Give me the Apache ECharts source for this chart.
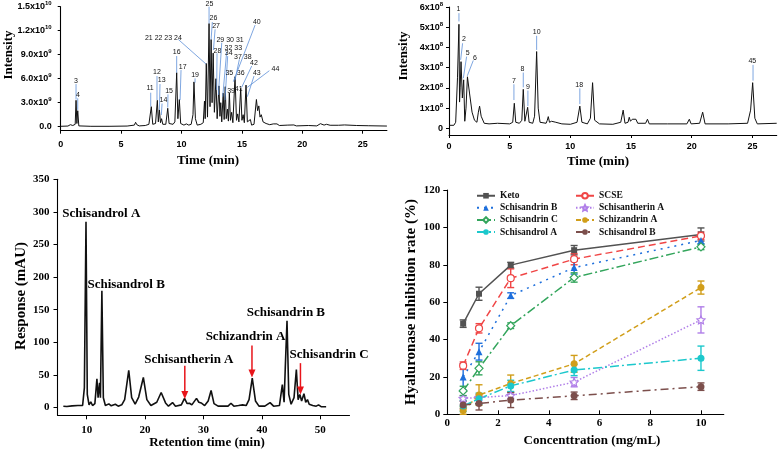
<!DOCTYPE html>
<html lang="en">
<head>
<meta charset="UTF-8">
<title>Chromatograms and hyaluronase inhibition</title>
<style>
  html, body { margin: 0; padding: 0; background: #fff; }
  #chart { width: 779px; height: 450px; }
</style>
</head>
<body>
<div id="chart"></div>
<script src="https://cdn.jsdelivr.net/npm/echarts@6/dist/echarts.min.js"></script>
<script>
// ---------- top left chromatogram: [time (min), intensity (x10^9)] ----------
let tlTrace = [
  [0, 0.05], [0.6, 0.08], [0.8, 0.25], [0.9, 0.05], [1.0, 0.15], [1.1, 0.05], [1.2, 0.3], [1.27, 3.3], [1.34, 0.4], [1.41, 2.0], [1.5, 0.1],
  [2.5, 0.05], [4, 0.05], [5.5, 0.08], [6.1, 0.2], [6.2, 0.55], [6.3, 0.25], [6.4, 0.4], [6.5, 0.1], [7.0, 0.15], [7.3, 0.3], [7.4, 0.25],
  [7.5, 2.5], [7.62, 0.3], [7.85, 0.4], [8.0, 3.3], [8.08, 0.6], [8.17, 2.1], [8.26, 0.5], [8.35, 1.0], [8.45, 0.3], [8.7, 0.3], [8.86, 2.3],
  [8.97, 0.4], [9.3, 0.3], [9.45, 0.6], [9.6, 6.75], [9.7, 1.0], [9.82, 3.4], [9.93, 0.4], [10.2, 0.2], [10.4, 0.35], [10.6, 0.2], [10.8, 0.3],
  [10.95, 1.5], [11.03, 5.6], [11.15, 1.0], [11.3, 0.2], [11.6, 0.3], [11.8, 0.5], [11.9, 3.2], [11.96, 1.0], [12.05, 7.9], [12.15, 1.2],
  [12.28, 12.9], [12.36, 2.5], [12.45, 10.9], [12.53, 3.0], [12.62, 9.2], [12.72, 1.8], [12.85, 6.0], [12.95, 1.0], [13.1, 5.1], [13.18, 1.3],
  [13.25, 3.0], [13.33, 0.6], [13.45, 4.2], [13.53, 0.9], [13.62, 5.0], [13.7, 1.0], [13.8, 2.2], [13.88, 0.7], [13.96, 4.2], [14.05, 0.8],
  [14.15, 1.8], [14.25, 0.5], [14.43, 6.25], [14.55, 0.8], [14.65, 1.6], [14.75, 0.6], [14.9, 4.8], [15.0, 0.8], [15.1, 1.5], [15.2, 0.5],
  [15.34, 5.2], [15.45, 0.6], [15.6, 0.6], [15.7, 0.9], [15.8, 0.2], [16.0, 0.3], [16.2, 3.4], [16.3, 2.0], [16.4, 2.6], [16.5, 1.2],
  [16.6, 1.5], [16.75, 0.6], [17.0, 0.4], [17.3, 0.25], [17.6, 0.35], [17.75, 0.2], [17.9, 0.35], [18.1, 0.15], [18.8, 0.2], [19.3, 0.22],
  [19.5, 0.1], [20.5, 0.15], [21.2, 0.1], [21.5, 0.38], [21.8, 0.2], [22.0, 0.3], [22.3, 0.18], [23.0, 0.18], [23.5, 0.22], [24.5, 0.15],
  [25.5, 0.12], [27, 0.08]
]
let tlNums = ['3', '4', '11', '12', '13', '14', '15', '16', '17', '19', '21 22 23 24', '25', '26', '27', '28', '29 30 31', '32 33', '34',
  '35', '36', '37 38', '39', '41', '40', '42', '43', '44']
let tlNumPos = [[1.27, 5.75], [1.43, 3.9], [7.4, 4.8], [7.97, 6.8], [8.36, 5.8], [8.5, 3.33], [8.97, 4.5], [9.6, 9.3], [10.1, 7.5],
  [11.12, 6.46], [8.5, 11.04], [12.31, 15.33], [12.64, 13.54], [12.86, 12.58], [12.97, 9.5], [14.02, 10.83], [14.29, 9.79], [13.91, 9.17],
  [13.96, 6.67], [14.9, 6.67], [15.07, 8.75], [14.1, 4.46], [14.73, 4.75], [16.23, 13.13], [16.0, 7.92], [16.23, 6.67], [17.77, 7.21]]
let tlLeaders = [[1.27, 5.33, 1.27, 3.4], [1.41, 3.55, 1.41, 2.1], [7.45, 4.25, 7.45, 2.5], [7.97, 6.33, 7.97, 3.33], [8.22, 5.33, 8.17, 2.1],
  [8.39, 2.9, 8.33, 1.46], [8.88, 4.04, 8.86, 2.4], [9.6, 8.83, 9.6, 6.75], [9.96, 7.08, 9.88, 3.33], [11.12, 6.04, 11.12, 5.5],
  [9.74, 10.9, 12.03, 7.83], [12.28, 15, 12.28, 12.9], [12.55, 13.08, 12.45, 10.9], [12.78, 12.17, 12.64, 9.58], [12.94, 9.17, 12.91, 4.58],
  [13.33, 10.5, 13.05, 3.96], [13.74, 9.38, 13.41, 3.75], [13.82, 8.83, 13.6, 3.33], null, null, [14.79, 8.42, 14.43, 5.83], null, null,
  [16.09, 12.7, 14.29, 5.63], [15.81, 7.58, 14.98, 4.92], [16.0, 6.33, 15.45, 3.75], [17.27, 7.0, 15.45, 4.92]]

// ---------- top right chromatogram: [time (min), intensity (x10^8)] ----------
let trTrace = [
  [0, 0.15], [0.4, 0.15], [0.55, 0.3], [0.7, 2.5], [0.82, 5.15], [0.87, 1.3], [0.92, 2.0], [0.99, 3.3], [1.1, 1.5], [1.21, 2.4], [1.3, 0.35],
  [1.4, 1.0], [1.52, 2.55], [1.7, 1.7], [1.9, 0.8], [2.1, 0.4], [2.3, 0.3], [2.42, 0.8], [2.52, 1.1], [2.65, 0.6], [2.9, 0.25], [3.3, 0.22],
  [4.0, 0.25], [5.0, 0.22], [5.25, 0.3], [5.38, 1.24], [5.5, 0.3], [5.8, 0.25], [6.0, 0.4], [6.12, 1.93], [6.25, 0.35], [6.38, 0.3],
  [6.48, 1.04], [6.6, 0.3], [6.9, 0.25], [7.05, 0.6], [7.22, 3.8], [7.35, 1.0], [7.5, 0.3], [8.0, 0.25], [8.1, 0.4], [8.18, 0.58],
  [8.28, 0.3], [8.45, 0.35], [8.6, 0.28], [8.8, 0.3], [9.3, 0.22], [10.0, 0.2], [10.55, 0.3], [10.78, 1.1], [10.95, 0.3], [11.4, 0.22],
  [11.65, 0.5], [11.83, 2.26], [12.0, 0.4], [12.4, 0.22], [13.5, 0.2], [14.15, 0.3], [14.35, 0.9], [14.5, 0.25], [14.75, 0.3], [14.85, 0.55],
  [14.95, 0.35], [15.1, 0.45], [15.25, 0.4], [15.4, 0.45], [15.55, 0.25], [16.2, 0.25], [16.35, 0.45], [16.5, 0.22], [18, 0.22],
  [19.6, 0.22], [19.8, 0.45], [19.95, 0.22], [20.65, 0.25], [20.9, 0.8], [21.1, 0.22], [23, 0.22], [24.6, 0.25], [24.85, 0.9],
  [25.02, 2.26], [25.2, 0.5], [25.4, 0.22], [27, 0.25]
]
let trNums = ['1', '2', '5', '6', '7', '8', '9', '10', '18', '45']
let trNumPos = [[0.77, 5.9], [1.23, 4.41], [1.54, 3.72], [2.14, 3.5], [5.35, 2.35], [6.06, 2.94], [6.5, 2.03], [7.22, 4.76], [10.73, 2.15], [24.99, 3.31]]
let trLeaders = [[0.82, 5.7, 0.82, 5.29], [1.12, 4.21, 0.96, 3.39], [1.45, 3.55, 1.18, 2.48], [2.0, 3.36, 1.51, 2.6], [5.35, 2.18, 5.35, 1.4],
  [6.12, 2.76, 6.12, 2.03], [6.5, 1.87, 6.5, 1.1], [7.22, 4.58, 7.22, 3.88], [10.78, 1.98, 10.78, 1.2], [25.05, 3.14, 25.05, 2.36]]

// ---------- bottom left HPLC trace: [retention time (min), response (mAU)] ----------
let blTrace = [
  [6.0, 2], [6.3, 4.5], [6.6, 1.5], [7.5, 2.5], [8.5, 3], [9.3, 3], [9.6, 30], [9.88, 285], [10.1, 20], [10.4, 4], [10.7, 8.5], [11.0, 3],
  [11.4, 6], [11.75, 44], [11.95, 15], [12.2, 38], [12.35, 15], [12.6, 179], [12.85, 15], [13.2, 3], [13.8, 5.5], [14.2, 2.5], [14.9, 5],
  [15.4, 2], [16.0, 4], [16.5, 12], [17.2, 57], [17.7, 15], [18.3, 5], [18.9, 16], [19.7, 46], [20.3, 12], [21.0, 3], [22.0, 8],
  [22.75, 23], [23.5, 7], [24.0, 2], [24.7, 7.5], [25.2, 2], [26.2, 4], [26.75, 14], [27.2, 6], [27.6, 6.5], [28.0, 4], [28.8, 14],
  [29.2, 8], [29.6, 7], [30.2, 3], [30.8, 10], [31.3, 26], [31.8, 6], [32.5, 2], [33.5, 2], [34.2, 2], [34.7, 6.5], [35.2, 2], [36.0, 3],
  [36.7, 4], [37.3, 3], [37.8, 12], [38.35, 45], [38.9, 10], [39.5, 2], [40.5, 2], [41.4, 7.5], [42.0, 2], [43.0, 3], [43.5, 35],
  [43.8, 8], [44.0, 60], [44.3, 133], [44.6, 20], [45.0, 5], [45.5, 15], [45.9, 58], [46.2, 12], [46.5, 20], [46.8, 10], [47.2, 21],
  [47.5, 8], [47.8, 12], [48.1, 5], [48.4, 8], [48.7, 3], [49.0, 6], [49.3, 2], [49.7, 4], [50.2, 1], [51.0, 1]
]
let blNames = ['Schisandrol A', 'Schisandrol B', 'Schisantherin A', 'Schizandrin A', 'Schisandrin B', 'Schisandrin C']
let blNamePos = [[12.5, 297], [16.75, 188], [27.5, 72.8], [37.2, 108.5], [44.1, 145], [51.5, 80.3]]
let blArrows = [[26.8, 64, 26.8, 13], [38.3, 95, 38.3, 46], [46.6, 68, 46.6, 20]]

// ---------- bottom right: hyaluronase inhibition ----------
let concX = [0.625, 1.25, 2.5, 5, 10]
let keto = [48.5, 64.5, 79.8, 87.8, 96.2]
let scse = [26, 46, 72.8, 83, 95.5]
let schB = [20, 33.5, 63.5, 78.5, 93]
let schTherA = [8.5, 9, 10, 17.2, 50.5]
let schC = [12.5, 24.6, 47.4, 73.2, 89.6]
let schizA = [2, 10.3, 16.5, 27, 67.8]
let sdrolA = [4.5, 8.3, 15.2, 23.7, 30]
let sdrolB = [5, 5.8, 7.6, 9.9, 14.8]
let ketoErr = [2, 3.5, 1.5, 2.5, 3.5]
let scseErr = [2, 2.5, 5, 3, 2]
let schBErr = [7, 4.5, 1.5, 3.5, 2]
let schTherAErr = [1.5, 1.5, 1.5, 2.5, 7]
let schCErr = [2.5, 3.5, 1.5, 2.5, 1.5]
let schizAErr = [2, 5.5, 4.5, 4.5, 3.5]
let sdrolAErr = [3, 3, 3, 3, 6.5]
let sdrolBErr = [2, 3.5, 4, 2, 2]

// tick labels
let timeTicks = [0, 5, 10, 15, 20, 25]
let tlYTicks = [0, 3, 6, 9, 12, 15]
let trYTicks = [0, 1, 2, 3, 4, 5, 6]
let blXTicks = [10, 20, 30, 40, 50]
let blYTicks = [0, 50, 100, 150, 200, 250, 300, 350]
let brXTicks = [0, 2, 4, 6, 8, 10]
let brYTicks = [0, 20, 40, 60, 80, 100, 120]

let SANS = 'Liberation Sans'
let SERIF = 'Liberation Serif'
let myChart = echarts.init(document.getElementById('chart'))

function xyAxis(grid, min, max, ticks, font, size, margin, tickLen, inside, fmt) {
  let lab = { customValues: ticks, fontFamily: font, fontWeight: 'bold', fontSize: size, color: '#000', margin: margin }
  if (fmt) {
    lab.formatter = fmt
    lab.lineHeight = 12
    lab.rich = { s: { fontFamily: font, fontWeight: 'bold', fontSize: 6, lineHeight: 6, verticalAlign: 'top', color: '#000' } }
  }
  return {
    gridIndex: grid, type: 'value', min: min, max: max,
    axisLine: { onZero: false, lineStyle: { color: '#000', width: 1.1 } },
    axisTick: { customValues: ticks, length: tickLen, inside: !!inside, lineStyle: { color: '#000', width: 1 } },
    axisLabel: lab,
    splitLine: { show: false }
  }
}

function traceSeries(grid, data, width) {
  return {
    type: 'line', xAxisIndex: grid, yAxisIndex: grid, data: data, showSymbol: false, symbol: 'none',
    lineStyle: { color: '#111', width: width }, silent: true
  }
}

function numberSeries(grid, texts, pos, leaders) {
  return {
    type: 'custom', xAxisIndex: grid, yAxisIndex: grid, clip: false, silent: true, data: pos, z: 5,
    renderItem: function (params, api) {
      let i = params.dataIndex
      let p = api.coord([api.value(0), api.value(1)])
      let kids = [{
        type: 'text', x: p[0], y: p[1],
        style: { text: texts[i], font: '7px ' + SANS, fill: '#111', align: 'center', verticalAlign: 'middle', textAlign: 'center', textVerticalAlign: 'middle' }
      }]
      let L = leaders[i]
      if (L) {
        let a = api.coord([L[0], L[1]])
        let b = api.coord([L[2], L[3]])
        kids.push({ type: 'line', shape: { x1: a[0], y1: a[1], x2: b[0], y2: b[1] }, style: { stroke: '#5d8fd8', lineWidth: 0.8 } })
      }
      return { type: 'group', children: kids }
    }
  }
}

let starPath = 'path://M0,-10L2.9,-4L9.5,-3.1L4.7,1.5L5.9,8.1L0,5L-5.9,8.1L-4.7,1.5L-9.5,-3.1L-2.9,-4Z'
let groups = [
  { name: 'Keto', vals: keto, errs: ketoErr, color: '#525252', dash: 'solid', symbol: 'rect', size: 6, fill: null },
  { name: 'SCSE', vals: scse, errs: scseErr, color: '#f04646', dash: [7, 4], symbol: 'circle', size: 7, fill: '#fff' },
  { name: 'Schisandrin B', vals: schB, errs: schBErr, color: '#1e6fdc', dash: [2, 5], symbol: 'triangle', size: 7, fill: null },
  { name: 'Schisantherin A', vals: schTherA, errs: schTherAErr, color: '#b07ee8', dash: [1.5, 2], symbol: starPath, size: 8, fill: '#fff' },
  { name: 'Schisandrin C', vals: schC, errs: schCErr, color: '#33a55c', dash: [9, 3, 2, 3], symbol: 'diamond', size: 8, fill: '#fff' },
  { name: 'Schizandrin A', vals: schizA, errs: schizAErr, color: '#d19e1a', dash: [5, 3], symbol: 'circle', size: 7, fill: null },
  { name: 'Schisandrol A', vals: sdrolA, errs: sdrolAErr, color: '#1cc8cc', dash: [9, 3, 2, 3], symbol: 'circle', size: 7, fill: null },
  { name: 'Schisandrol B', vals: sdrolB, errs: sdrolBErr, color: '#7c4f4c', dash: [8, 4, 2, 4], symbol: 'circle', size: 7, fill: null }
]

let series = [
  traceSeries(0, tlTrace, 1),
  traceSeries(1, trTrace, 1),
  traceSeries(2, blTrace, 1.6),
  numberSeries(0, tlNums, tlNumPos, tlLeaders),
  numberSeries(1, trNums, trNumPos, trLeaders),
  {
    type: 'custom', xAxisIndex: 2, yAxisIndex: 2, clip: false, silent: true, data: blNamePos, z: 5,
    renderItem: function (params, api) {
      let p = api.coord([api.value(0), api.value(1)])
      return {
        type: 'text', x: p[0], y: p[1],
        style: { text: blNames[params.dataIndex], font: 'bold 13px ' + SERIF, fill: '#000', align: 'center', verticalAlign: 'middle', textAlign: 'center', textVerticalAlign: 'middle' }
      }
    }
  },
  {
    type: 'custom', xAxisIndex: 2, yAxisIndex: 2, clip: false, silent: true, data: blArrows, z: 6,
    renderItem: function (params, api) {
      let a = api.coord([api.value(0), api.value(1)])
      let b = api.coord([api.value(2), api.value(3)])
      return {
        type: 'group', children: [
          { type: 'line', shape: { x1: a[0], y1: a[1], x2: b[0], y2: b[1] - 6 }, style: { stroke: '#e8141a', lineWidth: 1.5 } },
          { type: 'polygon', shape: { points: [[b[0] - 3.5, b[1] - 8], [b[0] + 3.5, b[1] - 8], [b[0], b[1]]] }, style: { fill: '#e8141a' } }
        ]
      }
    }
  }
]

groups.forEach(function (g) {
  series.push({
    type: 'custom', name: g.name + ' SD', xAxisIndex: 3, yAxisIndex: 3, silent: true, clip: false,
    data: concX.map(function (x, i) { return [x, g.vals[i], g.errs[i]] }),
    renderItem: function (params, api) {
      let x = api.value(0), y = api.value(1), e = api.value(2)
      let hi = api.coord([x, y + e])
      let lo = api.coord([x, y - e])
      let st = { stroke: g.color, lineWidth: 1.4 }
      return {
        type: 'group', children: [
          { type: 'line', shape: { x1: hi[0], y1: hi[1], x2: lo[0], y2: lo[1] }, style: st },
          { type: 'line', shape: { x1: hi[0] - 3.5, y1: hi[1], x2: hi[0] + 3.5, y2: hi[1] }, style: st },
          { type: 'line', shape: { x1: lo[0] - 3.5, y1: lo[1], x2: lo[0] + 3.5, y2: lo[1] }, style: st }
        ]
      }
    }
  })
})
groups.forEach(function (g) {
  series.push({
    type: 'line', name: g.name, xAxisIndex: 3, yAxisIndex: 3,
    data: concX.map(function (x, i) { return [x, g.vals[i]] }),
    symbol: g.symbol, symbolSize: g.size, showSymbol: true,
    lineStyle: { color: g.color, width: 1.5, type: g.dash },
    itemStyle: g.fill ? { color: g.fill, borderColor: g.color, borderWidth: 1.2 } : { color: g.color },
    z: 3
  })
})

function legendBox(names, left) {
  return {
    data: names, orient: 'vertical', left: left, top: 190.5, padding: 0, itemWidth: 18, itemHeight: 7, itemGap: 1.6,
    textStyle: { fontFamily: SERIF, fontWeight: 'bold', fontSize: 9.5, lineHeight: 10.5, color: '#111' }
  }
}

function axisTitle(text, x, y, vertical, size) {
  return {
    type: 'text', x: x, y: y, rotation: vertical ? Math.PI / 2 : 0,
    style: { text: text, font: 'bold ' + (size || 13) + 'px ' + SERIF, fill: '#000', textAlign: 'center', textVerticalAlign: 'middle', align: 'center', verticalAlign: 'middle' }
  }
}

let option = {
  animation: false,
  grid: [
    { left: 60.7, top: 6.7, width: 326.2, height: 124, outerBoundsMode: 'none' },
    { left: 449, top: 7.1, width: 327.7, height: 127.9, outerBoundsMode: 'none' },
    { left: 57.5, top: 179.3, width: 292, height: 236, outerBoundsMode: 'none' },
    { left: 447.3, top: 190, width: 276.5, height: 224.3, outerBoundsMode: 'none' }
  ],
  xAxis: [
    xyAxis(0, 0, 27, timeTicks, SANS, 9, 9, 3),
    xyAxis(1, 0, 27, timeTicks, SANS, 9, 7, 3),
    xyAxis(2, 5, 55, blXTicks, SERIF, 11, 9, 4),
    xyAxis(3, 0, 10.9, brXTicks, SERIF, 11, 3, 4, true)
  ],
  yAxis: [
    xyAxis(0, -0.5, 15, tlYTicks, SANS, 9, 9, 3, false, function (v) {
      if (v === 0) return '0.0'
      if (v >= 10) return (v / 10).toFixed(1) + 'x10{s|10}'
      return v.toFixed(1) + 'x10{s|9}'
    }),
    xyAxis(1, -0.33, 6, trYTicks, SANS, 9, 6, 3, false, function (v) {
      if (v === 0) return '0'
      return v + 'x10{s|8}'
    }),
    xyAxis(2, -12, 350, blYTicks, SERIF, 11, 8, 4),
    xyAxis(3, 0, 120, brYTicks, SERIF, 11, 7, 4)
  ],
  legend: [
    legendBox(['Keto', 'Schisandrin B', 'Schisandrin C', 'Schisandrol A'], 476),
    legendBox(['SCSE', 'Schisantherin A', 'Schizandrin A', 'Schisandrol B'], 575)
  ],
  graphic: [
    axisTitle('Intensity', 9, 55, true),
    axisTitle('Time (min)', 208, 161, false),
    axisTitle('Intensity', 404, 56, true),
    axisTitle('Time (min)', 598, 162, false),
    axisTitle('Response (mAU)', 21, 296, true, 15),
    axisTitle('Retention time (min)', 207, 443, false),
    axisTitle('Hyaluronase inhibition rate (%)', 411, 302, true, 15),
    axisTitle('Concenttration (mg/mL)', 592, 441, false)
  ],
  series: series
}
myChart.setOption(option)
</script>
</body>
</html>
